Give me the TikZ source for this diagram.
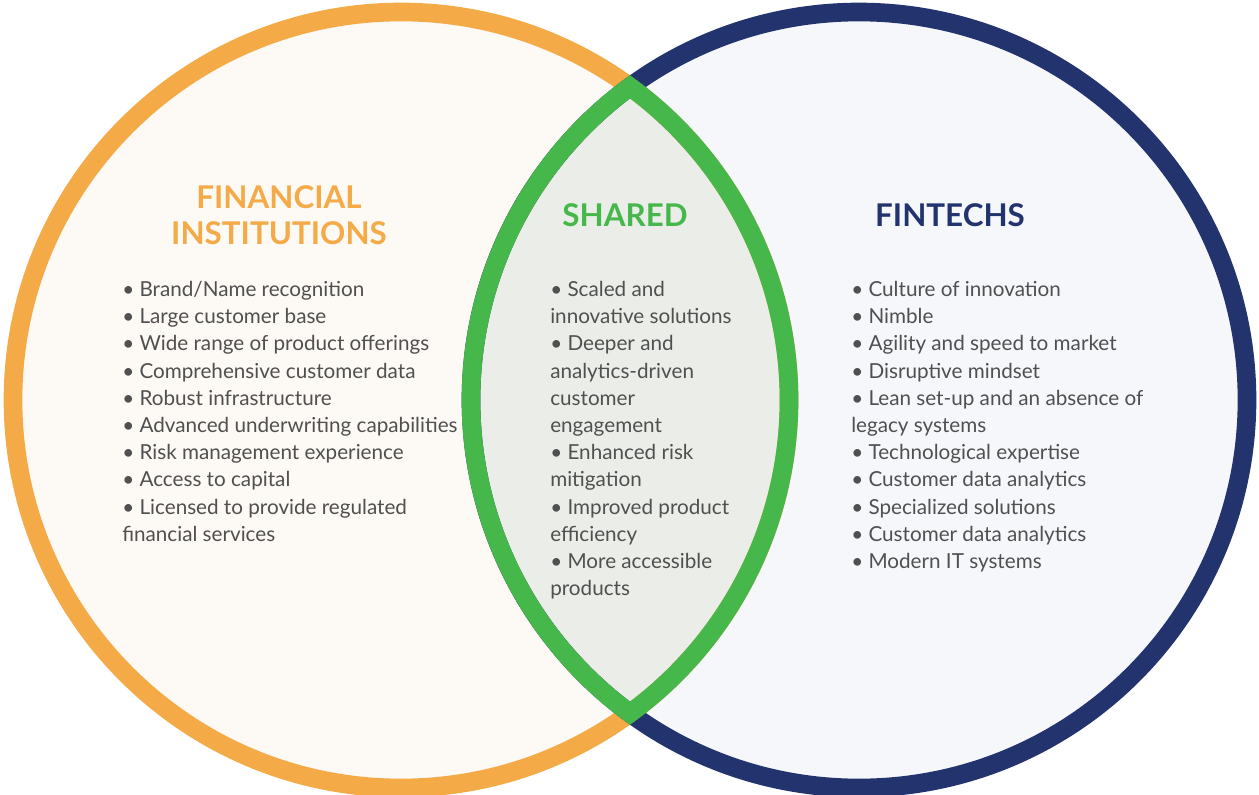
\documentclass[tikz,border=0pt]{standalone}
\usepackage{fontspec}
\setmainfont{Lato}
\definecolor{fiorange}{HTML}{F5AA48}
\definecolor{ftnavy}{HTML}{22336D}
\definecolor{shgreen}{HTML}{46B74A}
\definecolor{fifill}{HTML}{FDF9F4}
\definecolor{ftfill}{HTML}{F5F7FB}
\definecolor{shfill}{HTML}{EBEEE8}
\definecolor{bodygray}{HTML}{505050}
\tikzset{
  heading/.style={font=\fontsize{23.5}{27}\selectfont\bfseries, inner sep=0pt, align=center},
  listtext/.style={font=\fontsize{15.5}{20.4}\selectfont, text=bodygray, inner sep=0pt, align=left, anchor=north west},
  ring/.style={line width=14pt}
}
\begin{document}
\begin{tikzpicture}[x=0.75pt, y=-0.75pt]
  \useasboundingbox (0,0) rectangle (1259,795);
  % circle centres and the upper crossing point of the outlines
  \coordinate (L) at (401,400);
  \coordinate (R) at (859,400);
  \coordinate (P) at (630,86.8);
  % fills
  \fill[fifill] (L) circle[radius=291pt];
  \fill[ftfill] (R) circle[radius=291pt];
  \begin{scope}
    \clip (L) circle[radius=291pt];
    \fill[shfill] (R) circle[radius=291pt];
  \end{scope}
  % outlines
  \draw[ring, fiorange] (L) circle[radius=291pt];
  \draw[ring, ftnavy] (R) circle[radius=291pt];
  \draw[ring, shgreen, line join=miter]
    (P) arc[start angle=53.83, end angle=-53.83, radius=291pt]
        arc[start angle=233.83, end angle=126.17, radius=291pt] -- cycle;
  % headings
  \node[heading, text=fiorange] (fihead) at (279,215) {FINANCIAL\\[0pt]INSTITUTIONS};
  \node[heading, text=shgreen] (shhead) at (625,215) {SHARED};
  \node[heading, text=ftnavy] (fthead) at (950,215) {FINTECHS};
  % lists
  \node[listtext] (filist) at (122,281) {%
    • Brand/Name recognition\\
    • Large customer base\\
    • Wide range of product offerings\\
    • Comprehensive customer data\\
    • Robust infrastructure\\
    • Advanced underwriting capabilities\\
    • Risk management experience\\
    • Access to capital\\
    • Licensed to provide regulated\\
    financial services};
  \node[listtext] (shlist) at (550,281) {%
    • Scaled and\\
    innovative solutions\\
    • Deeper and\\
    analytics-driven\\
    customer\\
    engagement\\
    • Enhanced risk\\
    mitigation\\
    • Improved product\\
    efficiency\\
    • More accessible\\
    products};
  \node[listtext] (ftlist) at (851,281) {%
    • Culture of innovation\\
    • Nimble\\
    • Agility and speed to market\\
    • Disruptive mindset\\
    • Lean set-up and an absence of\\
    legacy systems\\
    • Technological expertise\\
    • Customer data analytics\\
    • Specialized solutions\\
    • Customer data analytics\\
    • Modern IT systems};
\end{tikzpicture}
\end{document}
